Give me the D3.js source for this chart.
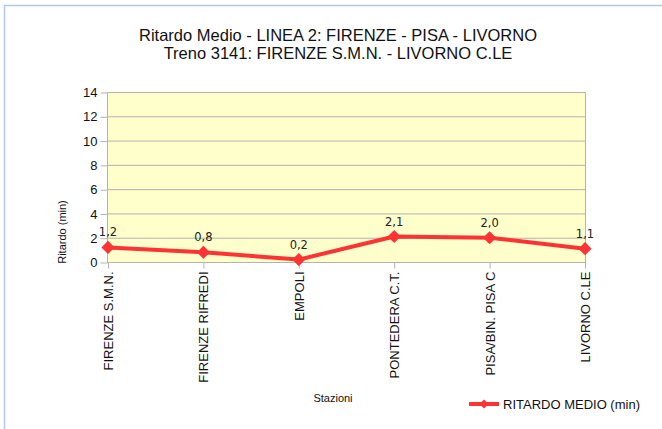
<!DOCTYPE html>
<html><head><meta charset="utf-8">
<script src="https://cdn.jsdelivr.net/npm/d3@7"></script>
<style>body{margin:0;background:#fff}svg{display:block}</style>
</head><body><svg id="c" width="662" height="429"></svg>
<script>
const stations = ["FIRENZE S.M.N.","FIRENZE RIFREDI","EMPOLI","PONTEDERA C.T.","PISA/BIN. PISA C","LIVORNO C.LE"];
const delays = [1.2, 0.8, 0.2, 2.1, 2.0, 1.1];
const delayLabels = ["1,2","0,8","0,2","2,1","2,0","1,1"];
const yTicks = [0,2,4,6,8,10,12,14];
const titleLines = ["Ritardo Medio - LINEA 2: FIRENZE - PISA - LIVORNO","Treno 3141: FIRENZE S.M.N. - LIVORNO C.LE"];
const seriesName = "RITARDO MEDIO (min)";

const svg = d3.select("#c");
const font = "'Liberation Sans', Arial, sans-serif";
const red = "#ff3333", grid = "#b3b3b3";

svg.append("rect").attr("x",4.5).attr("y",5.5).attr("width",700).attr("height",500)
  .attr("fill","none").attr("stroke","#b4c7e7").attr("stroke-width",1.5);

const L=107.5, R=585.5, T=92, B=262;
const x = d3.scalePoint().domain(stations).range([L+0.5,R-0.5]);
const y = d3.scaleLinear().domain([0,14]).range([B,T]);

svg.append("rect").attr("x",L).attr("y",T).attr("width",R-L).attr("height",B-T).attr("fill","#ffffcc");

const g = svg.append("g");
g.selectAll("line.g").data(yTicks).join("line")
  .attr("x1",L).attr("x2",R).attr("y1",d=>y(d)+0.5).attr("y2",d=>y(d)+0.5)
  .attr("stroke",grid).attr("stroke-width",1);
g.append("line").attr("x1",R).attr("x2",R).attr("y1",T).attr("y2",B).attr("stroke",grid);

const ya = svg.append("g").attr("transform",`translate(${L},0.5)`)
  .call(d3.axisLeft(y).tickValues(yTicks).tickSize(7).tickPadding(3).tickFormat(d3.format("d")));
ya.select(".domain").attr("stroke",grid).attr("d",`M0,${T}V${B}`);
ya.selectAll(".tick line").attr("stroke",grid);
ya.selectAll("text").attr("font-family",font).attr("font-size",13).attr("fill","#111");

const xa = svg.append("g").attr("transform",`translate(0,${B+0.5})`)
  .call(d3.axisBottom(x).tickSize(6).tickSizeOuter(0));
xa.select(".domain").attr("stroke",grid).attr("d",`M${L},0H${R}`);
xa.selectAll(".tick line").attr("stroke",grid);
xa.selectAll("text").attr("font-family",font).attr("font-size",13).attr("fill","#111")
  .attr("transform","rotate(-90)").attr("text-anchor","end").attr("dy","0.35em")
  .attr("x",-9).attr("y",0);

const line = d3.line().x((d,i)=>x(stations[i])).y(d=>y(d));
svg.append("path").datum(delays).attr("d",line).attr("fill","none")
  .attr("stroke",red).attr("stroke-width",4).attr("stroke-linejoin","round");

const diamond = d3.symbol().type(d3.symbolDiamond2).size(110);
svg.selectAll("path.m").data(delays).join("path").attr("class","m")
  .attr("d",diamond).attr("fill",red)
  .attr("transform",(d,i)=>`translate(${x(stations[i])},${y(d)})`);

svg.selectAll("text.lab").data(delays).join("text").attr("class","lab")
  .attr("x",(d,i)=>x(stations[i])).attr("y",d=>y(d)-11)
  .attr("text-anchor","middle").attr("font-family","'DejaVu Sans', sans-serif").attr("font-size",11.5).attr("fill","#222")
  .text((d,i)=>delayLabels[i]);

svg.selectAll("text.t").data(titleLines).join("text").attr("class","t")
  .attr("x",338).attr("y",(d,i)=>41+i*18).attr("text-anchor","middle")
  .attr("font-family",font).attr("font-size",16.5).attr("fill","#111").text(d=>d);

svg.append("text").attr("transform","translate(66,232) rotate(-90)").attr("text-anchor","middle")
  .attr("font-family",font).attr("font-size",11).attr("fill","#111").text("Ritardo (min)");

svg.append("text").attr("x",333).attr("y",402).attr("text-anchor","middle")
  .attr("font-family",font).attr("font-size",11).attr("fill","#111").text("Stazioni");

svg.append("line").attr("x1",469).attr("x2",499).attr("y1",404).attr("y2",404).attr("stroke",red).attr("stroke-width",4);
svg.append("path").attr("d",d3.symbol().type(d3.symbolDiamond2).size(50)).attr("fill",red).attr("transform","translate(484,404)");
svg.append("text").attr("x",503).attr("y",409).attr("font-family",font).attr("font-size",13).attr("fill","#111").text(seriesName);
</script></body></html>
